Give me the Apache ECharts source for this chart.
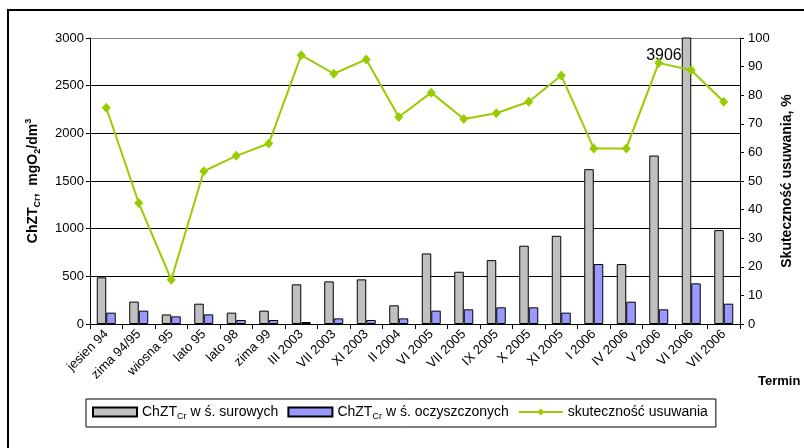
<!DOCTYPE html>
<html>
<head>
<meta charset="utf-8">
<script src="https://cdn.jsdelivr.net/npm/echarts@6/dist/echarts.min.js"></script>
<style>
  html, body { margin: 0; padding: 0; background: #fff; }
  #chart { width: 804px; height: 448px; }
</style>
</head>
<body>
<div id="chart"></div>
<script>
const terminy = ['jesien 94', 'zima 94/95', 'wiosna 95', 'lato 95', 'lato 98', 'zima 99',
  'III 2003', 'VII 2003', 'XI 2003', 'II 2004', 'VI 2005', 'VII 2005', 'IX 2005',
  'X 2005', 'XI 2005', 'I 2006', 'IV 2006', 'V 2006', 'VI 2006', 'VII 2006']
const surowe = [490, 235, 100, 213, 119, 140, 416, 447, 468, 196, 740, 548, 670, 821, 925, 1624, 629, 1767, 3906, 985]
const oczyszczone = [119, 140, 80, 101, 42, 42, 21, 59, 42, 59, 140, 154, 175, 175, 119, 629, 234, 154, 426, 213]
const skutecznosc = [75.6, 42.3, 15.5, 53.4, 58.8, 63.1, 94.0, 87.5, 92.5, 72.4, 80.9, 71.7, 73.7, 77.7, 86.9, 61.4, 61.4, 91.3, 88.7, 77.7]
const leftTicks = [0, 500, 1000, 1500, 2000, 2500, 3000]
const rightTicks = [0, 10, 20, 30, 40, 50, 60, 70, 80, 90, 100]

const FONT = 'Liberation Sans, Arial, sans-serif'

function richSet (size, weight) {
  return {
    n: { fontFamily: FONT, fontSize: size, fontWeight: weight, color: '#000', lineHeight: size + 4 },
    sub: { fontFamily: FONT, fontSize: size * 0.65, fontWeight: weight, color: '#000', lineHeight: size * 0.65, verticalAlign: 'bottom' },
    sup: { fontFamily: FONT, fontSize: size * 0.65, fontWeight: weight, color: '#000', lineHeight: size * 0.65, verticalAlign: 'top' }
  }
}

const legendNames = {
  'ChZTCr w ś. surowych': '{n|ChZT}{sub|Cr}{n| w ś. surowych}',
  'ChZTCr w ś. oczyszczonych': '{n|ChZT}{sub|Cr}{n| w ś. oczyszczonych}',
  'skuteczność usuwania': '{n|skuteczność usuwania}'
}

const chart = echarts.init(document.getElementById('chart'), null, { renderer: 'canvas' })

chart.setOption({
  backgroundColor: '#fff',
  animation: false,
  textStyle: { fontFamily: FONT },
  graphic: [{
    type: 'rect',
    shape: { x: 8, y: 10, width: 900, height: 600 },
    style: { fill: 'none', stroke: '#000', lineWidth: 2 },
    silent: true
  }],
  title: {
    text: 'Termin',
    left: 758,
    top: 375,
    padding: 0,
    textStyle: { fontFamily: FONT, fontSize: 13, fontWeight: 'bold', color: '#000' }
  },
  legend: {
    left: 86,
    top: 399,
    padding: [6, 8, 6, 6],
    borderColor: '#000',
    borderWidth: 1,
    borderRadius: 0,
    itemWidth: 44,
    itemHeight: 9,
    itemGap: 9,
    data: [
      { name: 'ChZTCr w ś. surowych', icon: 'rect' },
      { name: 'ChZTCr w ś. oczyszczonych', icon: 'rect' },
      { name: 'skuteczność usuwania' }
    ],
    formatter: name => legendNames[name],
    textStyle: { rich: richSet(14, 'normal') }
  },
  grid: { left: 90, right: 64, top: 38, bottom: 124 },
  xAxis: {
    type: 'category',
    data: terminy,
    axisLine: { lineStyle: { color: '#000', width: 1 } },
    axisTick: { show: true, length: 5, lineStyle: { color: '#000' } },
    axisLabel: { interval: 0, rotate: 45, fontSize: 13, color: '#000', margin: 8 }
  },
  yAxis: [
    {
      type: 'value',
      min: leftTicks[0],
      max: leftTicks[leftTicks.length - 1],
      interval: leftTicks[1] - leftTicks[0],
      name: '{n|ChZT}{sub|Cr}{n|,  mgO}{sub|2}{n|/dm}{sup|3}',
      nameLocation: 'middle',
      nameRotate: 90,
      nameGap: 48,
      nameTextStyle: { rich: richSet(14, 'bold') },
      axisLine: { show: true, lineStyle: { color: '#000' } },
      axisTick: { show: true, length: 4, lineStyle: { color: '#000' } },
      axisLabel: { fontSize: 13, color: '#000', margin: 6, formatter: v => String(v) },
      splitLine: {
        show: true,
        lineStyle: { color: ['#000', '#000', '#000', '#000', '#000', '#000', '#808080'], width: 1 }
      }
    },
    {
      type: 'value',
      min: rightTicks[0],
      max: rightTicks[rightTicks.length - 1],
      interval: rightTicks[1] - rightTicks[0],
      position: 'right',
      name: 'Skuteczność usuwania, %',
      nameLocation: 'middle',
      nameRotate: 90,
      nameGap: 38,
      nameTextStyle: { fontSize: 14, fontWeight: 'bold', color: '#000' },
      axisLine: { show: true, lineStyle: { color: '#000' } },
      axisTick: { show: true, length: 4, lineStyle: { color: '#000' } },
      axisLabel: { fontSize: 13, color: '#000', margin: 8 },
      splitLine: { show: false }
    }
  ],
  series: [
    {
      name: 'ChZTCr w ś. surowych',
      type: 'bar',
      barWidth: 9.5,
      barGap: '0%',
      clip: true,
      itemStyle: { color: '#c0c0c0', borderColor: '#000', borderWidth: 1 },
      data: surowe.map((v, i) => i === 18 ? {
        value: v,
        label: {
          show: true,
          position: [0, 18],
          align: 'right',
          verticalAlign: 'middle',
          fontSize: 16,
          color: '#000',
          formatter: '{c}'
        }
      } : v)
    },
    {
      name: 'ChZTCr w ś. oczyszczonych',
      type: 'bar',
      barWidth: 9.5,
      itemStyle: { color: '#9999ff', borderColor: '#000', borderWidth: 1 },
      data: oczyszczone
    },
    {
      name: 'skuteczność usuwania',
      type: 'line',
      yAxisIndex: 1,
      symbol: 'diamond',
      symbolSize: [9, 10],
      lineStyle: { color: '#99cc00', width: 2 },
      itemStyle: { color: '#99cc00' },
      z: 3,
      data: skutecznosc
    }
  ]
})
</script>
</body>
</html>
